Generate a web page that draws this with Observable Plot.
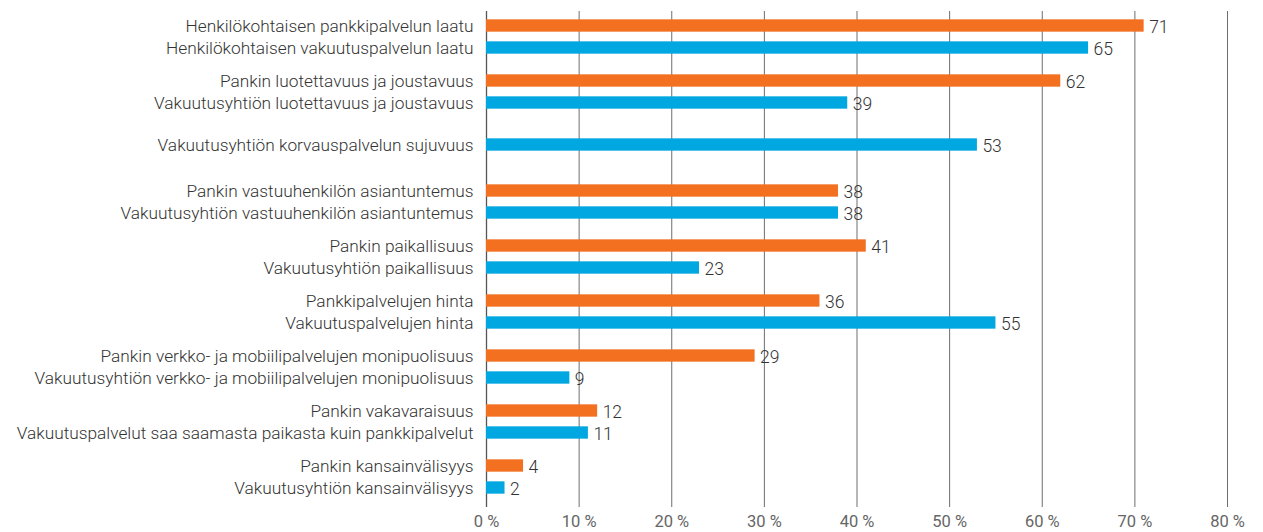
<!DOCTYPE html>
<html>
<head>
<meta charset="utf-8">
<script src="https://cdn.jsdelivr.net/npm/d3@7"></script>
<script src="https://cdn.jsdelivr.net/npm/@observablehq/plot@0.6"></script>
<style>
  html, body { margin: 0; padding: 0; background: #fff; }
  #chart { width: 1263px; height: 532px; }
</style>
</head>
<body>
<div id="chart"></div>
<script>
// ---- data ----
const labels = [
  "Henkilökohtaisen pankkipalvelun laatu",
  "Henkilökohtaisen vakuutuspalvelun laatu",
  "Pankin luotettavuus ja joustavuus",
  "Vakuutusyhtiön luotettavuus ja joustavuus",
  "Vakuutusyhtiön korvauspalvelun sujuvuus",
  "Pankin vastuuhenkilön asiantuntemus",
  "Vakuutusyhtiön vastuuhenkilön asiantuntemus",
  "Pankin paikallisuus",
  "Vakuutusyhtiön paikallisuus",
  "Pankkipalvelujen hinta",
  "Vakuutuspalvelujen hinta",
  "Pankin verkko- ja mobiilipalvelujen monipuolisuus",
  "Vakuutusyhtiön verkko- ja mobiilipalvelujen monipuolisuus",
  "Pankin vakavaraisuus",
  "Vakuutuspalvelut saa saamasta paikasta kuin pankkipalvelut",
  "Pankin kansainvälisyys",
  "Vakuutusyhtiön kansainvälisyys"
];
const values = [71, 65, 62, 39, 53, 38, 38, 41, 23, 36, 55, 29, 9, 12, 11, 4, 2];
const series = ["Pankki", "Vakuutus", "Pankki", "Vakuutus", "Vakuutus", "Pankki", "Vakuutus",
  "Pankki", "Vakuutus", "Pankki", "Vakuutus", "Pankki", "Vakuutus", "Pankki", "Vakuutus",
  "Pankki", "Vakuutus"];
const groupNames = ["Palvelun laatu", "Luotettavuus", "Korvauspalvelu", "Asiantuntemus",
  "Paikallisuus", "Hinta", "Verkkopalvelut", "Vakavaraisuus", "Kansainvälisyys"];
const groups = ["Palvelun laatu", "Palvelun laatu", "Luotettavuus", "Luotettavuus", "Korvauspalvelu",
  "Asiantuntemus", "Asiantuntemus", "Paikallisuus", "Paikallisuus", "Hinta", "Hinta",
  "Verkkopalvelut", "Verkkopalvelut", "Vakavaraisuus", "Vakavaraisuus", "Kansainvälisyys", "Kansainvälisyys"];
const xTicks = [0, 10, 20, 30, 40, 50, 60, 70, 80];
const colors = { Pankki: "#f47021", Vakuutus: "#00a7e1" };

// ---- build ----
const rows = labels.map((label, i) => ({ label, value: values[i], series: series[i], group: groups[i] }));
const counts = d3.rollup(rows, v => v.length, d => d.group);
const subsets = [
  { data: rows.filter(d => counts.get(d.group) > 1 && d.series === "Pankki"), dy: -11 },
  { data: rows.filter(d => counts.get(d.group) > 1 && d.series === "Vakuutus"), dy: 11 },
  { data: rows.filter(d => counts.get(d.group) === 1), dy: -2 }
];

const W = 1263, H = 532, mTop = 6, mBottom = 25;
const bw = (H - mTop - mBottom) / groupNames.length;
const barH = 13;
const inset = (bw - barH) / 2;
const font = "Roboto, 'Open Sans', sans-serif";

const marks = [
  Plot.ruleX(xTicks.filter(d => d > 0), { stroke: "#6e6e6e", strokeWidth: 1, insetTop: 5 }),
  Plot.ruleX([0], { stroke: "#555", strokeWidth: 1.3, insetTop: 5 })
];
for (const s of subsets) {
  marks.push(Plot.barX(s.data, {
    x: "value", y: "group", fill: d => colors[d.series],
    insetTop: inset, insetBottom: inset, dy: s.dy
  }));
  marks.push(Plot.text(s.data, {
    y: "group", text: "label", frameAnchor: "left", textAnchor: "end",
    dx: -13, dy: s.dy, fill: "#333", fontSize: 17.3, fontWeight: 300
  }));
  marks.push(Plot.text(s.data, {
    x: "value", y: "group", text: d => String(d.value), textAnchor: "start",
    dx: 5, dy: s.dy + 1, fill: "#333", fontSize: 17.5, fontWeight: 300
  }));
}

const chart = Plot.plot({
  width: W, height: H,
  marginLeft: 486, marginRight: 36, marginTop: mTop, marginBottom: mBottom,
  style: { fontFamily: font, fontSize: "16.5px", color: "#666", background: "#fff" },
  x: { domain: [0, 80], ticks: xTicks, tickFormat: d => d + "\u00a0%", tickSize: 0, tickPadding: 8, label: null },
  y: { domain: groupNames, padding: 0, axis: null },
  fill: { type: "identity" },
  marks
});
document.getElementById("chart").appendChild(chart);
</script>
</body>
</html>
